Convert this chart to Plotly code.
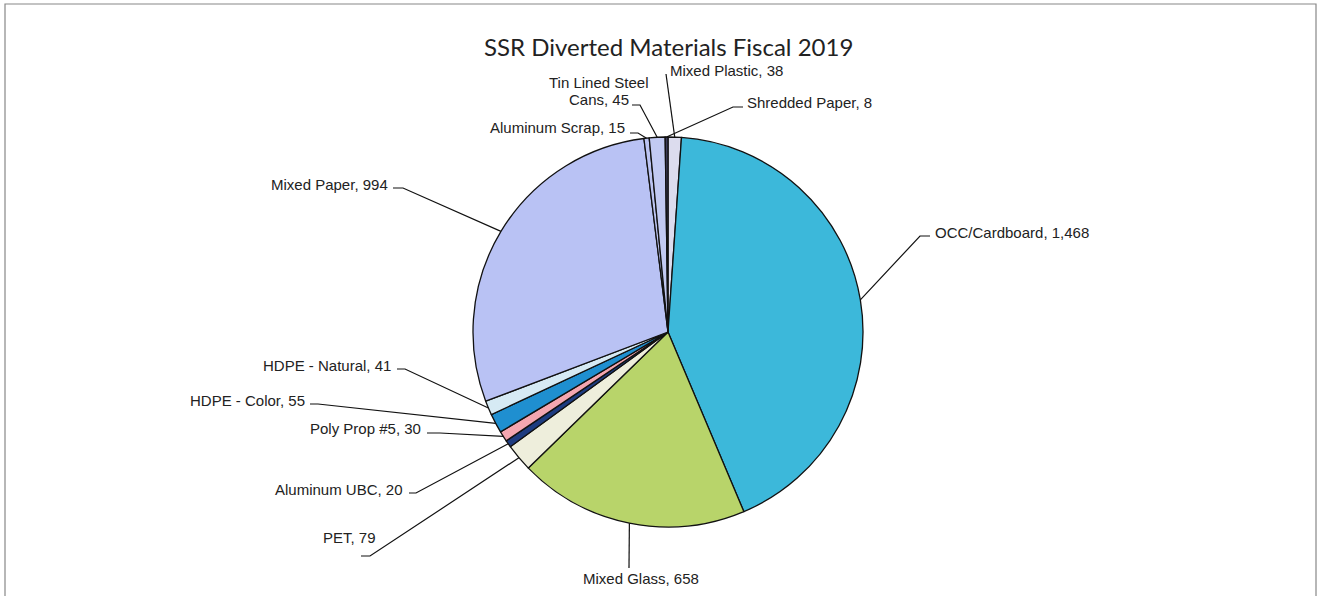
import math
import plotly.graph_objects as go

# ---- data ----
materials = ["Mixed Plastic", "OCC/Cardboard", "Mixed Glass", "PET", "Aluminum UBC",
             "Poly Prop #5", "HDPE - Color", "HDPE - Natural", "Mixed Paper",
             "Aluminum Scrap", "Tin Lined Steel Cans", "Shredded Paper"]
tons = [38, 1468, 658, 79, 20, 30, 55, 41, 994, 15, 45, 8]
colors = ["#dcdcee", "#3cb8da", "#b8d46a", "#eeeedc", "#1e3c80", "#f4a6b0",
          "#1f8fd0", "#d6eaf4", "#b9c2f4", "#bcc4f2", "#c2caf2", "#3c3c5a"]
title = "SSR Diverted Materials Fiscal 2019"

# ---- layout geometry (pixels) ----
W, H = 1321, 596
CX, CY, R = 668, 332, 195

def px(x):
    return x / W

def py(y):
    return 1 - y / H

# label placement: (anchor x, y, xanchor) and leader line (start x, elbow x, y)
label_pos = {
    "Mixed Plastic": (668, 70, "left"),
    "OCC/Cardboard": (933, 232, "left"),
    "Mixed Glass": (641, 578, "center"),
    "PET": (378, 537, "right"),
    "Aluminum UBC": (405, 489, "right"),
    "Poly Prop #5": (423, 428, "right"),
    "HDPE - Color": (307, 400, "right"),
    "HDPE - Natural": (393, 365, "right"),
    "Mixed Paper": (390, 184, "right"),
    "Aluminum Scrap": (627, 127, "right"),
    "Tin Lined Steel Cans": (599, 91, "center"),
    "Shredded Paper": (745, 103, "left"),
}
leader = {
    "Mixed Plastic": (666, 666, 74),
    "OCC/Cardboard": (930, 920, 236),
    "Mixed Glass": (629, 629, 568),
    "PET": (361, 370, 556),
    "Aluminum UBC": (409, 416, 493),
    "Poly Prop #5": (427, 440, 433),
    "HDPE - Color": (310, 318, 404),
    "HDPE - Natural": (397, 405, 369),
    "Mixed Paper": (393, 403, 188),
    "Aluminum Scrap": (630, 638, 133),
    "Tin Lined Steel Cans": (632, 640, 105),
    "Shredded Paper": (743, 733, 107),
}

fig = go.Figure(go.Pie(
    labels=materials, values=tons, sort=False, direction="clockwise", rotation=0,
    marker=dict(colors=colors, line=dict(color="#111111", width=1.3)),
    textinfo="none", hoverinfo="label+value", showlegend=False,
    domain=dict(x=[px(CX - R), px(CX + R)], y=[py(CY + R), py(CY - R)]),
))

total = sum(tons)
annotations = []
shapes = []
cum = 0.0
for name, val in zip(materials, tons):
    mid = (cum + val / 2) / total * 360
    cum += val
    sx = CX + R * math.sin(math.radians(mid))
    sy = CY - R * math.cos(math.radians(mid))
    x0, xe, ly = leader[name]
    shapes.append(dict(type="path", xref="paper", yref="paper",
                       path=f"M {px(x0)} {py(ly)} L {px(xe)} {py(ly)} L {px(sx)} {py(sy)}",
                       line=dict(color="#111111", width=1.2)))
    lx, lyy, anc = label_pos[name]
    text = f"{name}, {val:,}"
    if name == "Tin Lined Steel Cans":
        annotations.append(dict(x=px(lx), y=py(lyy - 8.5), xref="paper", yref="paper",
                                text="Tin Lined Steel", showarrow=False, xanchor=anc,
                                yanchor="middle", font=dict(size=15, color="#222")))
        annotations.append(dict(x=px(lx), y=py(lyy + 8.5), xref="paper", yref="paper",
                                text=f"Cans, {val:,}", showarrow=False, xanchor=anc,
                                yanchor="middle", font=dict(size=15, color="#222")))
    else:
        annotations.append(dict(x=px(lx), y=py(lyy), xref="paper", yref="paper",
                                text=text, showarrow=False, xanchor=anc, yanchor="middle",
                                font=dict(size=15, color="#222")))

annotations.append(dict(x=px(CX), y=py(46), xref="paper", yref="paper", text=title,
                        showarrow=False, xanchor="center", yanchor="middle",
                        font=dict(family="Lato", size=24, color="#222")))

shapes.append(dict(type="rect", xref="paper", yref="paper",
                   x0=px(5), x1=px(1316), y0=py(610), y1=py(4),
                   line=dict(color="#888888", width=1.2)))

fig.update_layout(
    width=W, height=H, margin=dict(l=0, r=0, t=0, b=0),
    paper_bgcolor="white", plot_bgcolor="white",
    font=dict(family="Liberation Sans, Arial", color="#222"),
    annotations=annotations, shapes=shapes,
)
fig.write_html("out.html", config={"displayModeBar": False},
               post_script="document.body.style.margin='0';document.body.style.overflow='hidden';")
